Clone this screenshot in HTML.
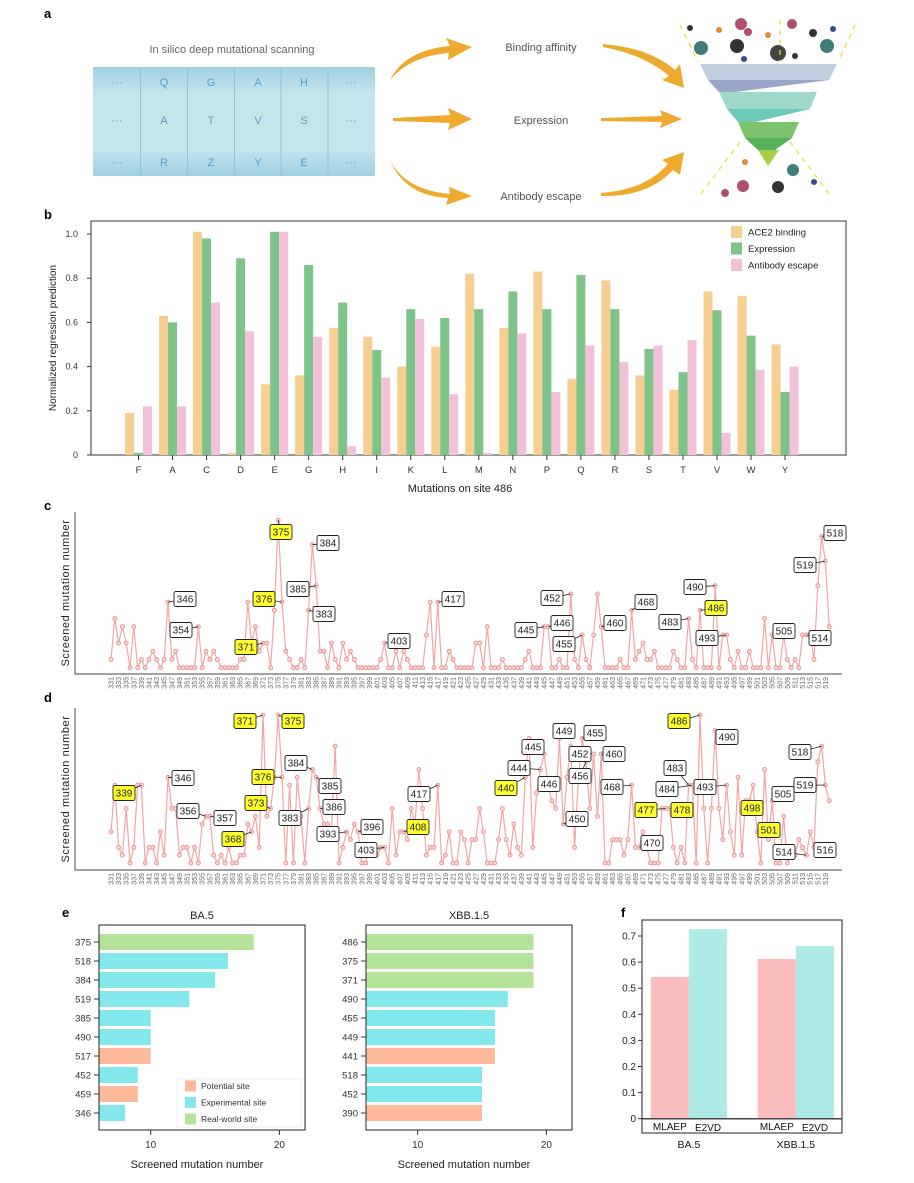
<!DOCTYPE html>
<html><head><meta charset="utf-8">
<style>
body{margin:0;background:#fff;}
svg{display:block;font-family:"Liberation Sans",sans-serif;}
</style></head>
<body>
<svg id="fig" width="914" height="1183" viewBox="0 0 914 1183" xmlns="http://www.w3.org/2000/svg">
<defs>
<linearGradient id="gridGrad" x1="0" y1="0" x2="0" y2="1">
<stop offset="0" stop-color="#9fd0e0"/><stop offset="0.25" stop-color="#c5e5ee"/><stop offset="0.75" stop-color="#c5e5ee"/><stop offset="1" stop-color="#9fd0e0"/>
</linearGradient>
</defs>
<text x="44" y="18" font-size="13" font-weight="bold">a</text>
<text x="44" y="219" font-size="13" font-weight="bold">b</text>
<text x="44" y="510" font-size="13" font-weight="bold">c</text>
<text x="44" y="702" font-size="13" font-weight="bold">d</text>
<text x="62" y="917" font-size="13" font-weight="bold">e</text>
<text x="621" y="917" font-size="13" font-weight="bold">f</text>

<g>
<text x="232" y="53" font-size="11" fill="#666" text-anchor="middle">In silico deep mutational scanning</text>
<rect x="93" y="67" width="282" height="109" fill="url(#gridGrad)"/>
<g stroke="#8fc3d6" stroke-width="1">
<line x1="140.5" y1="67" x2="140.5" y2="176"/><line x1="187.5" y1="67" x2="187.5" y2="176"/><line x1="234.5" y1="67" x2="234.5" y2="176"/><line x1="281" y1="67" x2="281" y2="176"/><line x1="328" y1="67" x2="328" y2="176"/>
</g>
<g font-size="11" fill="#5a9cc0" text-anchor="middle">
<text x="117" y="86">···</text><text x="164" y="86">Q</text><text x="211" y="86">G</text><text x="258" y="86">A</text><text x="304" y="86">H</text><text x="351" y="86">···</text>
<text x="117" y="124">···</text><text x="164" y="124">A</text><text x="211" y="124">T</text><text x="258" y="124">V</text><text x="304" y="124">S</text><text x="351" y="124">···</text>
<text x="117" y="166">···</text><text x="164" y="166">R</text><text x="211" y="166">Z</text><text x="258" y="166">Y</text><text x="304" y="166">E</text><text x="351" y="166">···</text>
</g>
<g fill="#eeaa2e">
<path d="M390,80 Q405,50 450,46 L446,38 L472,47 L448,60 L449,53 Q410,56 390,80 Z"/>
<path d="M393,118 L450,115 L448,108 L472,119 L448,130 L450,123 L393,121 Z"/>
<path d="M390,160 Q405,190 450,194 L449,187 L472,196 L446,205 L448,198 Q405,196 390,160 Z"/>
<path d="M603,44 Q650,48 675,70 L680,64 L684,88 L662,80 L669,76 Q645,55 603,47 Z"/>
<path d="M601,118 L662,116 L660,110 L682,119 L660,128 L662,122 L601,121 Z"/>
<path d="M601,193 Q645,190 668,164 L662,160 L684,152 L680,175 L673,170 Q648,197 601,196 Z"/>
</g>
<g font-size="11" fill="#555" text-anchor="middle">
<text x="541" y="51">Binding affinity</text>
<text x="541" y="124">Expression</text>
<text x="541" y="200">Antibody escape</text>
</g>
<g>
<polygon points="700,64 837,64 829,80 708,80" fill="#c2cde0"/>
<polygon points="708,80 829,80 735,92 719,92" fill="#9aa6c8"/>
<polygon points="719,92 817,92 810,109 727,109" fill="#9fd9cc"/>
<polygon points="727,109 810,109 755,122 738,122" fill="#6dc9b8"/>
<polygon points="738,122 799,122 792,138 745,138" fill="#7dc36e"/>
<polygon points="745,138 792,138 775,150 758,150" fill="#57b05a"/>
<polygon points="758,150 779,150 768,166" fill="#a5cf48"/>
</g>
<g>
<circle cx="701" cy="48" r="7" fill="#3d7f78"/><circle cx="737" cy="46" r="7" fill="#333"/><circle cx="778" cy="53" r="8" fill="#444"/><circle cx="827" cy="46" r="7" fill="#3d7f78"/>
<circle cx="741" cy="24" r="6" fill="#b05070"/><circle cx="748" cy="32" r="4" fill="#b05070"/><circle cx="719" cy="30" r="3" fill="#e08a3a"/><circle cx="768" cy="35" r="3" fill="#e08a3a"/>
<circle cx="792" cy="24" r="5" fill="#b05070"/><circle cx="813" cy="33" r="4" fill="#333"/><circle cx="833" cy="29" r="3" fill="#3a4d8a"/><circle cx="690" cy="28" r="3" fill="#333"/>
<circle cx="744" cy="59" r="3" fill="#3a4d8a"/><circle cx="795" cy="56" r="3" fill="#333"/>
<circle cx="745" cy="162" r="3" fill="#e08a3a"/><circle cx="793" cy="170" r="6" fill="#3d7f78"/><circle cx="743" cy="186" r="6" fill="#b05070"/><circle cx="778" cy="187" r="6" fill="#333"/><circle cx="814" cy="182" r="3" fill="#3a4d8a"/><circle cx="725" cy="193" r="4" fill="#b05070"/>
</g>
<g stroke="#e4e030" stroke-width="1.2" stroke-dasharray="5,5">
<line x1="680" y1="25" x2="698" y2="62"/><line x1="855" y1="25" x2="838" y2="62"/><line x1="780" y1="20" x2="780" y2="62"/><line x1="740" y1="142" x2="700" y2="195"/><line x1="790" y1="142" x2="830" y2="195"/>
</g>
</g>

<g id="panelB"></g>
<g id="panelC"></g>
<g id="panelD"></g>
<g id="panelE"></g>
<g id="panelF"></g>
</svg>
<script>
const bCategories = ["F","A","C","D","E","G","H","I","K","L","M","N","P","Q","R","S","T","V","W","Y"];
const bAce2 = [0.19,0.63,1.01,0.01,0.32,0.36,0.575,0.535,0.40,0.49,0.82,0.575,0.83,0.345,0.79,0.36,0.295,0.74,0.72,0.50];
const bExpression = [0.01,0.60,0.98,0.89,1.01,0.86,0.69,0.475,0.66,0.62,0.66,0.74,0.66,0.815,0.66,0.48,0.375,0.655,0.54,0.285];
const bEscape = [0.22,0.22,0.69,0.56,1.01,0.535,0.04,0.35,0.615,0.275,0.01,0.55,0.285,0.495,0.42,0.495,0.52,0.10,0.385,0.40];
const bTicks = [0,0.2,0.4,0.6,0.8,1.0];
const bTickLabels = ["0","0.2","0.4","0.6","0.8","1.0"];
const bSeriesNames = ["ACE2 binding","Expression","Antibody escape"];

const firstSite = 331;
const cValues = [1,6,3,5,3,0,5,0,1,0, 1,2,1,0,1,8,1,2,0,0, 0,0,0,5,0,2,1,2,1,0, 0,0,0,0,1,1,8,3,5,2,
 3,3,0,7,18,8,2,1,0,0, 1,0,7,15,10,2,2,0,3,1, 0,3,1,2,1,0,0,0,0,0, 0,1,3,0,0,2,0,2,1,0,
 0,0,0,4,8,0,8,0,0,2, 1,0,0,0,0,0,3,3,0,5, 0,0,0,1,0,0,0,0,0,1, 2,0,0,0,5,5,0,0,1,0,
 0,9,1,0,4,1,0,4,9,5, 0,0,0,0,1,0,0,7,1,2, 3,1,1,2,0,0,0,0,2,1, 0,0,6,1,0,7,0,0,0,10,
 0,4,4,1,0,2,0,0,2,0, 0,0,6,0,4,0,0,4,1,0, 1,0,4,4,4,1,10,16,13,5];
const dValues = [4,10,2,1,7,0,2,10,10,0, 2,2,0,4,1,11,7,7,1,2, 2,0,2,0,5,6,6,1,0,1, 0,2,0,0,1,1,5,4,6,2,
 19,6,7,11,19,11,0,10,0,11, 6,0,7,12,11,7,5,5,4,15, 0,2,4,3,5,4,0,0,2,2, 1,2,2,0,7,1,4,4,3,7,
 5,12,7,1,2,2,10,0,1,4, 0,0,4,3,0,3,3,7,4,0, 0,0,3,7,3,1,5,2,1,11, 16,2,9,12,14,10,8,7,16,5,
 11,15,2,11,16,13,7,14,6,14, 0,0,3,3,3,1,3,10,2,2, 4,2,0,0,0,7,7,7,2,0, 2,0,10,10,0,19,7,0,7,17,
 7,3,10,4,1,11,1,8,8,10, 4,0,12,3,8,0,0,6,0,1, 1,3,2,1,4,2,13,15,10,8];
const cLabelSites = [375,384,385,383,376,371,346,354,403,417,452,446,445,455,460,468,483,486,490,493,505,514,519,518];
const cLabelHighlight = [375,376,371,486];
const dLabelSites = [371,375,339,346,356,357,376,373,368,384,385,386,383,393,396,403,408,417,440,444,445,446,449,455,452,456,460,450,468,470,477,478,483,484,486,490,493,498,501,505,514,516,518,519];
const dLabelHighlight = [371,375,339,376,373,368,408,440,477,478,486,498,501];

const eBA5Sites = ["375","518","384","519","385","490","517","452","459","346"];
const eBA5Values = [18,16,15,13,10,10,10,9,9,8];
const eBA5Types = ["real","exp","exp","exp","exp","exp","pot","exp","pot","exp"];
const eXBBSites = ["486","375","371","490","455","449","441","518","452","390"];
const eXBBValues = [19,19,19,17,16,16,16,15,15,15];
const eXBBTypes = ["real","real","real","exp","exp","exp","pot","exp","exp","pot"];
const eTicks = [10,20];

const fGroups = ["BA.5","XBB.1.5"];
const fMethods = ["MLAEP","E2VD"];
const fMLAEP = [0.543,0.612];
const fE2VD = [0.726,0.661];
const fTicks = [0,0.1,0.2,0.3,0.4,0.5,0.6,0.7];

const NS = "http://www.w3.org/2000/svg";
function mk(parent, tag, attrs, txt){
  const e = document.createElementNS(NS, tag);
  for (const k in attrs) e.setAttribute(k, attrs[k]);
  if (txt !== undefined) e.textContent = txt;
  parent.appendChild(e);
  return e;
}

(function(){
  const g = document.getElementById('panelB');
  const left=91, right=846, top=221, zeroY=455, oneY=234;
  const yS = v => zeroY - v*(zeroY-oneY);
  const xC = i => 138.5 + i*34.03;
  const bw = 9;
  const frame = mk(g,'rect',{x:left,y:top,width:right-left,height:zeroY-top,fill:'none',stroke:'#333','stroke-width':1});
  
  
  bTicks.forEach((t,i)=>{
    const y=yS(t);
    const tk = mk(g,'line',{x1:left-4,y1:y,x2:left,y2:y,stroke:'#333'});
    
    
    const lb = mk(g,'text',{x:left-13,y:y+3,'font-size':9,'text-anchor':'end',fill:'#333'},bTickLabels[i]);
    
    
  });
  const colors=['#f8cd90','#7cc48a','#f4bfd9'];
  const series=[bAce2,bExpression,bEscape];
  bCategories.forEach((c,i)=>{
    const cx=xC(i);
    series.forEach((s,k)=>{
      const x = cx - 13.5 + k*bw;
      const r = mk(g,'rect',{x:x,y:yS(s[i]),width:bw,height:zeroY-yS(s[i]),fill:colors[k]});
      
      
    });
    const tk = mk(g,'line',{x1:cx,y1:zeroY,x2:cx,y2:zeroY+5,stroke:'#333'});
    
    
    const lb = mk(g,'text',{x:cx,y:zeroY+18,'font-size':9.5,'text-anchor':'middle',fill:'#333'},c);
    
    
  });
  const xt = mk(g,'text',{x:460,y:492,'font-size':11,'text-anchor':'middle',fill:'#222'},'Mutations on site 486');
  
  
  const yt = mk(g,'text',{x:0,y:0,'font-size':10,'text-anchor':'middle',fill:'#222',transform:'translate(56,338) rotate(-90)'},'Normalized regression prediction');
  
  
  bSeriesNames.forEach((n,k)=>{
    const y=232+k*16.5;
    const sw = mk(g,'rect',{x:731,y:y-6,width:11,height:12,fill:colors[k]});
    
    
    const t = mk(g,'text',{x:748,y:y+3.5,'font-size':9.5,fill:'#222'},n);
    
    
  });
})();

function linePanel(gid, values, zeroY, unit, axisY, topY, labelSites, hl, labelPos){
  const g = document.getElementById(gid);
  const xS = s => 111 + (s-firstSite)*3.8;
  const yS = v => zeroY - v*unit;
  const ax = mk(g,'path',{d:`M75,${topY} L75,${axisY} L842,${axisY}`,fill:'none',stroke:'#444','stroke-width':1});
  
  
  const yt = mk(g,'text',{x:0,y:0,'font-size':11,'text-anchor':'middle',fill:'#222','letter-spacing':'0.6',transform:`translate(69,${(topY+axisY)/2}) rotate(-90)`},'Screened mutation number');
  
  
  for(let s=331;s<=519;s+=2){
    const t = mk(g,'text',{x:0,y:0,'font-size':7,'text-anchor':'end',fill:'#666',transform:`translate(${xS(s)+2.5},${axisY+3}) rotate(-90)`},String(s));
    
    
  }
  const pts = values.map((v,i)=>`${xS(firstSite+i).toFixed(1)},${yS(v).toFixed(1)}`).join(' ');
  const pl = mk(g,'polyline',{points:pts,fill:'none',stroke:'#f0a6a6','stroke-width':1.2});
  
  
  values.forEach((v,i)=>{
    const c = mk(g,'circle',{cx:xS(firstSite+i),cy:yS(v),r:2,fill:'#fbd3d3',stroke:'#e58a8a','stroke-width':0.8});
    
    
  });
  labelSites.forEach((s,i)=>{
    const [lx,ly] = labelPos[i];
    const px = xS(s), py = yS(values[s-firstSite]);
    const cn = mk(g,'line',{x1:lx,y1:ly,x2:px,y2:py,stroke:'#222','stroke-width':0.8});
    
    
  });
  labelSites.forEach((s,i)=>{
    const [lx,ly] = labelPos[i];
    const isH = hl.includes(s);
    const b = mk(g,'rect',{x:lx-11,y:ly-7.5,width:22,height:15,rx:2,fill:isH?'#ffff2e':'#fff',stroke:'#222','stroke-width':0.9});
    
    
    const t = mk(g,'text',{x:lx,y:ly+3.6,'font-size':10,'text-anchor':'middle',fill:'#222'},String(s));
    
    
  });
}
const cLabelPos = [[281,532],[328,543],[298,589],[324,614],[264,599],[246,647],[185,599],[181,630],[399,641],[453,599],[552,598],[562,623],[526,630],[564,644],[615,623],[646,602],[670,622],[716,608],[695,587],[707,638],[784,631],[820,638],[805,565],[835,533]];
const dLabelPos = [[245,721],[293,721],[124,793],[183,778],[188,811],[225,818],[263,777],[256,803],[233,839],[296,763],[330,786],[334,807],[290,818],[328,834],[372,827],[366,850],[418,827],[419,794],[506,788],[519,768],[533,747],[549,784],[564,731],[595,733],[580,754],[580,776],[614,754],[577,819],[612,787],[652,843],[646,810],[682,810],[675,768],[667,789],[679,721],[727,737],[705,787],[752,808],[769,830],[783,794],[784,852],[825,850],[800,752],[805,785]];
linePanel('panelC', cValues, 667.7, 8.2, 674, 512, cLabelSites, cLabelHighlight, cLabelPos);
linePanel('panelD', dValues, 863, 7.79, 870, 708, dLabelSites, dLabelHighlight, dLabelPos);

const eColors = {real:'#b5e39a', exp:'#82e8ec', pot:'#fdb99a'};
function hbar(title, sites, vals, types, left, right, tick10, legend){
  const g = document.getElementById('panelE');
  const top=925, bottom=1130;
  const xS = v => tick10 + (v-10)*12.87;
  const tt = mk(g,'text',{x:(left+right)/2,y:919,'font-size':11,'text-anchor':'middle',fill:'#222'},title);
  
  
  sites.forEach((s,i)=>{
    const y = 942 + i*19;
    const r = mk(g,'rect',{x:left,y:y-8,width:xS(vals[i])-left,height:16,fill:eColors[types[i]]});
    
    
    const tk = mk(g,'line',{x1:left-5,y1:y,x2:left,y2:y,stroke:'#333'});
    
    
    const lb = mk(g,'text',{x:left-8,y:y+3.5,'font-size':9.5,'text-anchor':'end',fill:'#333'},s);
    
    
  });
  eTicks.forEach(t=>{
    const x=xS(t);
    const tk = mk(g,'line',{x1:x,y1:bottom,x2:x,y2:bottom+5,stroke:'#333'});
    
    
    const lb = mk(g,'text',{x:x,y:bottom+18,'font-size':10,'text-anchor':'middle',fill:'#333'},String(t));
    
    
  });
  const fr = mk(g,'rect',{x:left,y:top,width:right-left,height:bottom-top,fill:'none',stroke:'#222','stroke-width':1});
  
  
  const xt = mk(g,'text',{x:(left+right)/2-5,y:1168,'font-size':11,'text-anchor':'middle',fill:'#222'},'Screened mutation number');
  
  
  if(legend){
    const lb = mk(g,'rect',{x:177,y:1079,width:124,height:48,fill:'#fff',stroke:'#eee'});
    
    
    [['pot','Potential site'],['exp','Experimental site'],['real','Real-world site']].forEach((p,k)=>{
      const y=1086+k*16.5;
      const sw = mk(g,'rect',{x:185,y:y-5.5,width:11,height:11,fill:eColors[p[0]]});
      
      
      const t = mk(g,'text',{x:201,y:y+3,'font-size':8.5,fill:'#333'},p[1]);
      
      
    });
  }
}
hbar('BA.5', eBA5Sites, eBA5Values, eBA5Types, 99, 305, 150.7, true);
hbar('XBB.1.5', eXBBSites, eXBBValues, eXBBTypes, 366, 572, 417.7, false);

(function(){
  const g = document.getElementById('panelF');
  const left=642, right=842, top=920, zeroY=1118.7, bottom=1133;
  const yS = v => zeroY - v*261;
  const groupX = [650.7, 757.7];
  const bw = 38.2;
  fTicks.forEach(t=>{
    const y=yS(t);
    const tk = mk(g,'line',{x1:left-4,y1:y,x2:left,y2:y,stroke:'#333'});
    
    
    const lb = mk(g,'text',{x:left-6,y:y+3.5,'font-size':10,'text-anchor':'end',fill:'#222'},t===0?'0':t.toFixed(1));
    
    
  });
  fGroups.forEach((grp,i)=>{
    const x0=groupX[i];
    const r1 = mk(g,'rect',{x:x0,y:yS(fMLAEP[i]),width:bw,height:zeroY-yS(fMLAEP[i]),fill:'#fbbcbc'});
    
    
    const r2 = mk(g,'rect',{x:x0+bw,y:yS(fE2VD[i]),width:bw,height:zeroY-yS(fE2VD[i]),fill:'#ade9e5'});
    
    
    const m1 = mk(g,'text',{x:x0+bw/2,y:1130,'font-size':10,'text-anchor':'middle',fill:'#111'},fMethods[0]);
    
    
    const m2 = mk(g,'text',{x:x0+bw*1.5,y:1131,'font-size':10,'text-anchor':'middle',fill:'#111'},fMethods[1]);
    
    
    const gl = mk(g,'text',{x:x0+bw,y:1148,'font-size':10.5,'text-anchor':'middle',fill:'#111'},grp);
    
    
  });
  const fr = mk(g,'rect',{x:left,y:top,width:right-left,height:bottom-top,fill:'none',stroke:'#222','stroke-width':1});
  
  
  const zl = mk(g,'line',{x1:left,y1:zeroY,x2:right,y2:zeroY,stroke:'#444','stroke-width':1.5});
  
  
})();
</script>
</body></html>
